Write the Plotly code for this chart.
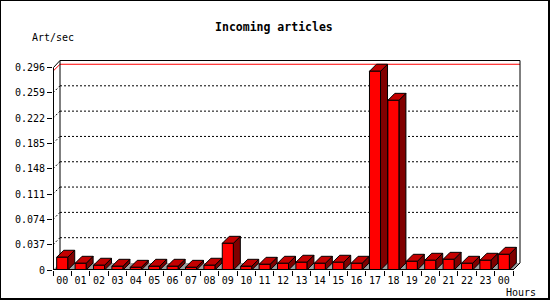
import plotly.graph_objects as go

# ---- data ----
hours = ["00", "01", "02", "03", "04", "05", "06", "07", "08", "09", "10", "11",
         "12", "13", "14", "15", "16", "17", "18", "19", "20", "21", "22", "23", "00"]
rates = [0.0186, 0.0098, 0.0069, 0.0054, 0.0039, 0.0054, 0.0054, 0.0039, 0.0069,
         0.0390, 0.0054, 0.0083, 0.0098, 0.0113, 0.0098, 0.0113, 0.0098, 0.2905,
         0.2480, 0.0127, 0.0142, 0.0156, 0.0098, 0.0142, 0.0229]
ytick_vals = [0, 0.037, 0.074, 0.111, 0.148, 0.185, 0.222, 0.259, 0.296]
ytick_text = ["0", "0.037", "0.074", "0.111", "0.148", "0.185", "0.222", "0.259", "0.296"]
title_text = "Incoming articles"
y_label = "Art/sec"
x_label = "Hours"

# ---- geometry / style ----
W, H = 550, 300
ML, MT = 53, 59
PW, PH = 468, 211
U = 18.4                      # px per category
S = 202.5 / ytick_vals[-1]    # px per unit value
DEPTH = 7
DX, DY = DEPTH / U, DEPTH / S
HX, HY = 0.5 / U, 0.5 / S
BW = 0.6
n = len(rates)
X0, X1 = -0.5, n - 0.5
FT = ytick_vals[-1]
XR = [X0, X0 + PW / U]
YR = [0, PH / S]
FRONT, TOP, SIDE = "#ff0000", "#c40000", "#800000"
FLOOR = "#a0a0a0"
FONT = "DejaVu Sans Mono"

fig = go.Figure()


def poly_trace(polys, fill, line_color="black", width=1):
    xs, ys = [], []
    for p in polys:
        for (a, b) in p:
            xs.append(a)
            ys.append(b)
        xs.append(p[0][0]); ys.append(p[0][1])
        xs.append(None); ys.append(None)
    return go.Scatter(x=xs, y=ys, mode="lines", fill="toself", fillcolor=fill,
                      line=dict(color=line_color, width=width), hoverinfo="skip")


def line_trace(segs, color="black", dash="solid", width=1):
    xs, ys = [], []
    for s in segs:
        for (a, b) in s:
            xs.append(a)
            ys.append(b)
        xs.append(None); ys.append(None)
    return go.Scatter(x=xs, y=ys, mode="lines", line=dict(color=color, width=width, dash=dash),
                      hoverinfo="skip")


# floor
floor = [(X0, 0), (X1, 0), (X1 + DX, DY), (X0 + DX, DY)]
fig.add_trace(poly_trace([floor], FLOOR, line_color="rgba(0,0,0,0)", width=0))

# gridlines on back wall + left side stubs
grid = []
for g in ytick_vals[1:-1]:
    grid.append([(X0 + DX, g + DY), (X1 + DX, g + DY)])
    grid.append([(X0, g), (X0 + DX, g + DY)])
fig.add_trace(line_trace(grid, dash="2px,2px"))

# max line
vmax = max(rates)
fig.add_trace(line_trace([[(X0, vmax), (X0 + DX, vmax + DY), (X1 + DX, vmax + DY)]], color="red"))

# wall outline
wall = [[(X0 + DX, DY), (X0 + DX, FT + DY), (X1 + DX, FT + DY), (X1 + DX, DY)],
        [(X1, 0), (X1 + DX, DY)]]
fig.add_trace(line_trace(wall))

# bars
fronts, tops, sides = [], [], []
for i, v in enumerate(rates):
    l, r = i - BW / 2, i + BW / 2
    fronts.append([(l, 0), (r, 0), (r, v), (l, v)])
    tops.append([(l, v), (r, v), (r + DX, v + DY), (l + DX, v + DY)])
    sides.append([(r, 0), (r + DX, DY), (r + DX, v + DY), (r, v)])
fig.add_trace(poly_trace(sides, SIDE))
fig.add_trace(poly_trace(tops, TOP))
fig.add_trace(poly_trace(fronts, FRONT))

# front axes
fig.add_trace(line_trace([[(X0 + HX, 0), (X0 + HX, FT), (X0 + DX, FT + DY)],
                          [(X0, HY), (X1, HY)]]))


def px2x(px):
    return (px - ML) / PW


def py2y(py):
    return (MT + PH - py) / PH


fig.update_layout(
    width=W, height=H, autosize=False,
    margin=dict(l=ML, r=W - ML - PW, t=MT, b=H - MT - PH, pad=0),
    paper_bgcolor="white", plot_bgcolor="white", showlegend=False,
    title=dict(text=title_text, x=0.498, xref="container", xanchor="center",
               y=1 - 26.7 / H, yref="container", yanchor="middle",
               font=dict(family=FONT, size=11.5, color="black", weight="bold")),
    xaxis=dict(range=XR, showgrid=False, zeroline=False, showline=False, automargin=False,
               tickmode="array", tickvals=list(range(n)), ticktext=hours,
               ticks="outside", ticklen=1, tickcolor="rgba(0,0,0,0)",
               tickfont=dict(family=FONT, size=10, color="black"),
               minor=dict(tickmode="linear", tick0=-0.5, dtick=1, ticks="outside",
                          ticklen=5, tickcolor="black", tickwidth=1, showgrid=False),
               fixedrange=True),
    yaxis=dict(range=YR, showgrid=False, zeroline=False, showline=False, automargin=False,
               tickmode="array", tickvals=ytick_vals, ticktext=ytick_text,
               ticks="outside", ticklen=5, tickcolor="black", tickwidth=1,
               tickfont=dict(family=FONT, size=10, color="black"),
               fixedrange=True),
    annotations=[
        dict(text=y_label, xref="paper", yref="paper", x=px2x(30), y=py2y(37),
             xanchor="left", yanchor="middle", showarrow=False,
             font=dict(family=FONT, size=10, color="black")),
        dict(text=x_label, xref="paper", yref="paper", x=px2x(504), y=py2y(292.5),
             xanchor="left", yanchor="middle", showarrow=False,
             font=dict(family=FONT, size=10, color="black")),
    ],
    shapes=[dict(type="rect", xref="paper", yref="paper",
                 x0=px2x(0), x1=px2x(549), y0=py2y(299), y1=py2y(0),
                 line=dict(color="black", width=2), layer="above")],
)

fig.write_html("out.html")
